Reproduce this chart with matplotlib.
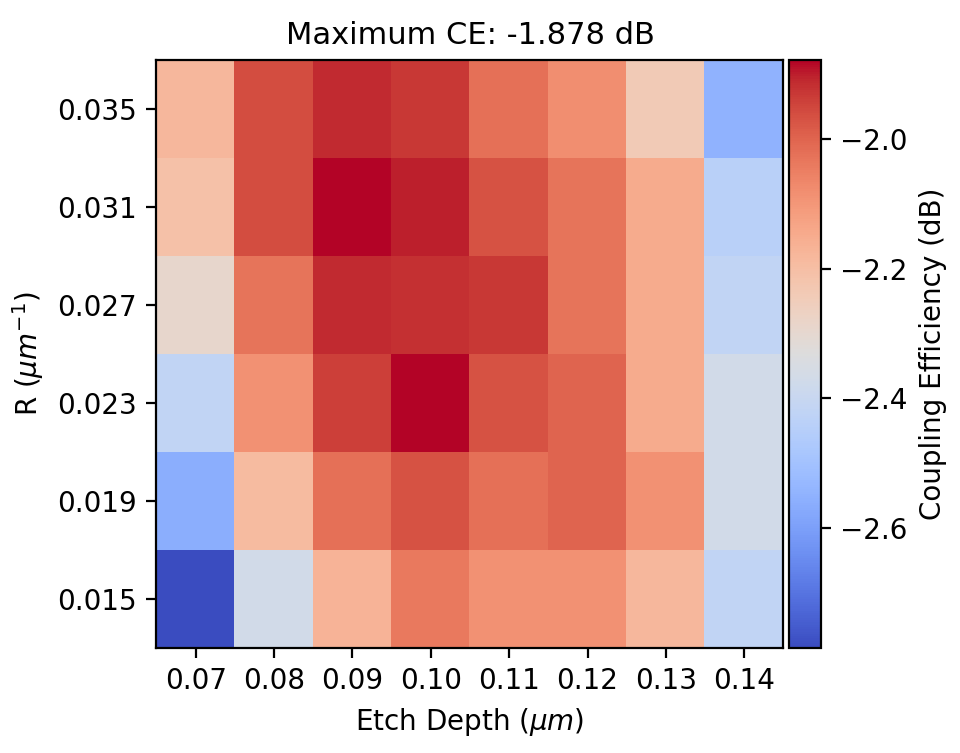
import matplotlib
matplotlib.use("Agg")
import matplotlib.pyplot as plt
import numpy as np
from mpl_toolkits.axes_grid1 import make_axes_locatable

etch = ["0.07", "0.08", "0.09", "0.10", "0.11", "0.12", "0.13", "0.14"]
radius = ["0.015", "0.019", "0.023", "0.027", "0.031", "0.035"]
# rows bottom (0.015) to top (0.035)
ce = [
    [-2.785, -2.37, -2.17, -2.04, -2.09, -2.09, -2.18, -2.42],
    [-2.56, -2.19, -2.02, -1.97, -2.02, -2.00, -2.09, -2.37],
    [-2.42, -2.09, -1.94, -1.878, -1.97, -2.00, -2.15, -2.37],
    [-2.29, -2.03, -1.91, -1.92, -1.93, -2.03, -2.15, -2.42],
    [-2.21, -1.96, -1.88, -1.90, -1.97, -2.03, -2.15, -2.44],
    [-2.18, -1.96, -1.91, -1.93, -2.02, -2.08, -2.24, -2.55],
]
data = np.array(ce)

fig, ax = plt.subplots(figsize=(4.8, 3.765), dpi=200)
im = ax.imshow(data, cmap="coolwarm", origin="lower", aspect="auto")
ax.set_xticks(range(len(etch)))
ax.set_xticklabels(etch)
ax.set_yticks(range(len(radius)))
ax.set_yticklabels(radius)
ax.set_xlabel(r"Etch Depth ($\mu m$)")
ax.set_ylabel(r"R ($\mu m^{-1}$)")
ax.set_title(f"Maximum CE: {data.max():.3f} dB", fontsize=11)
div = make_axes_locatable(ax)
cax = div.append_axes("right", size="5%", pad=0.03)
cb = fig.colorbar(im, cax=cax)
cb.set_label("Coupling Efficiency (dB)")
fig.subplots_adjust(left=0.163, right=0.855, bottom=0.14, top=0.92)
fig.savefig("out.png", dpi=200)
